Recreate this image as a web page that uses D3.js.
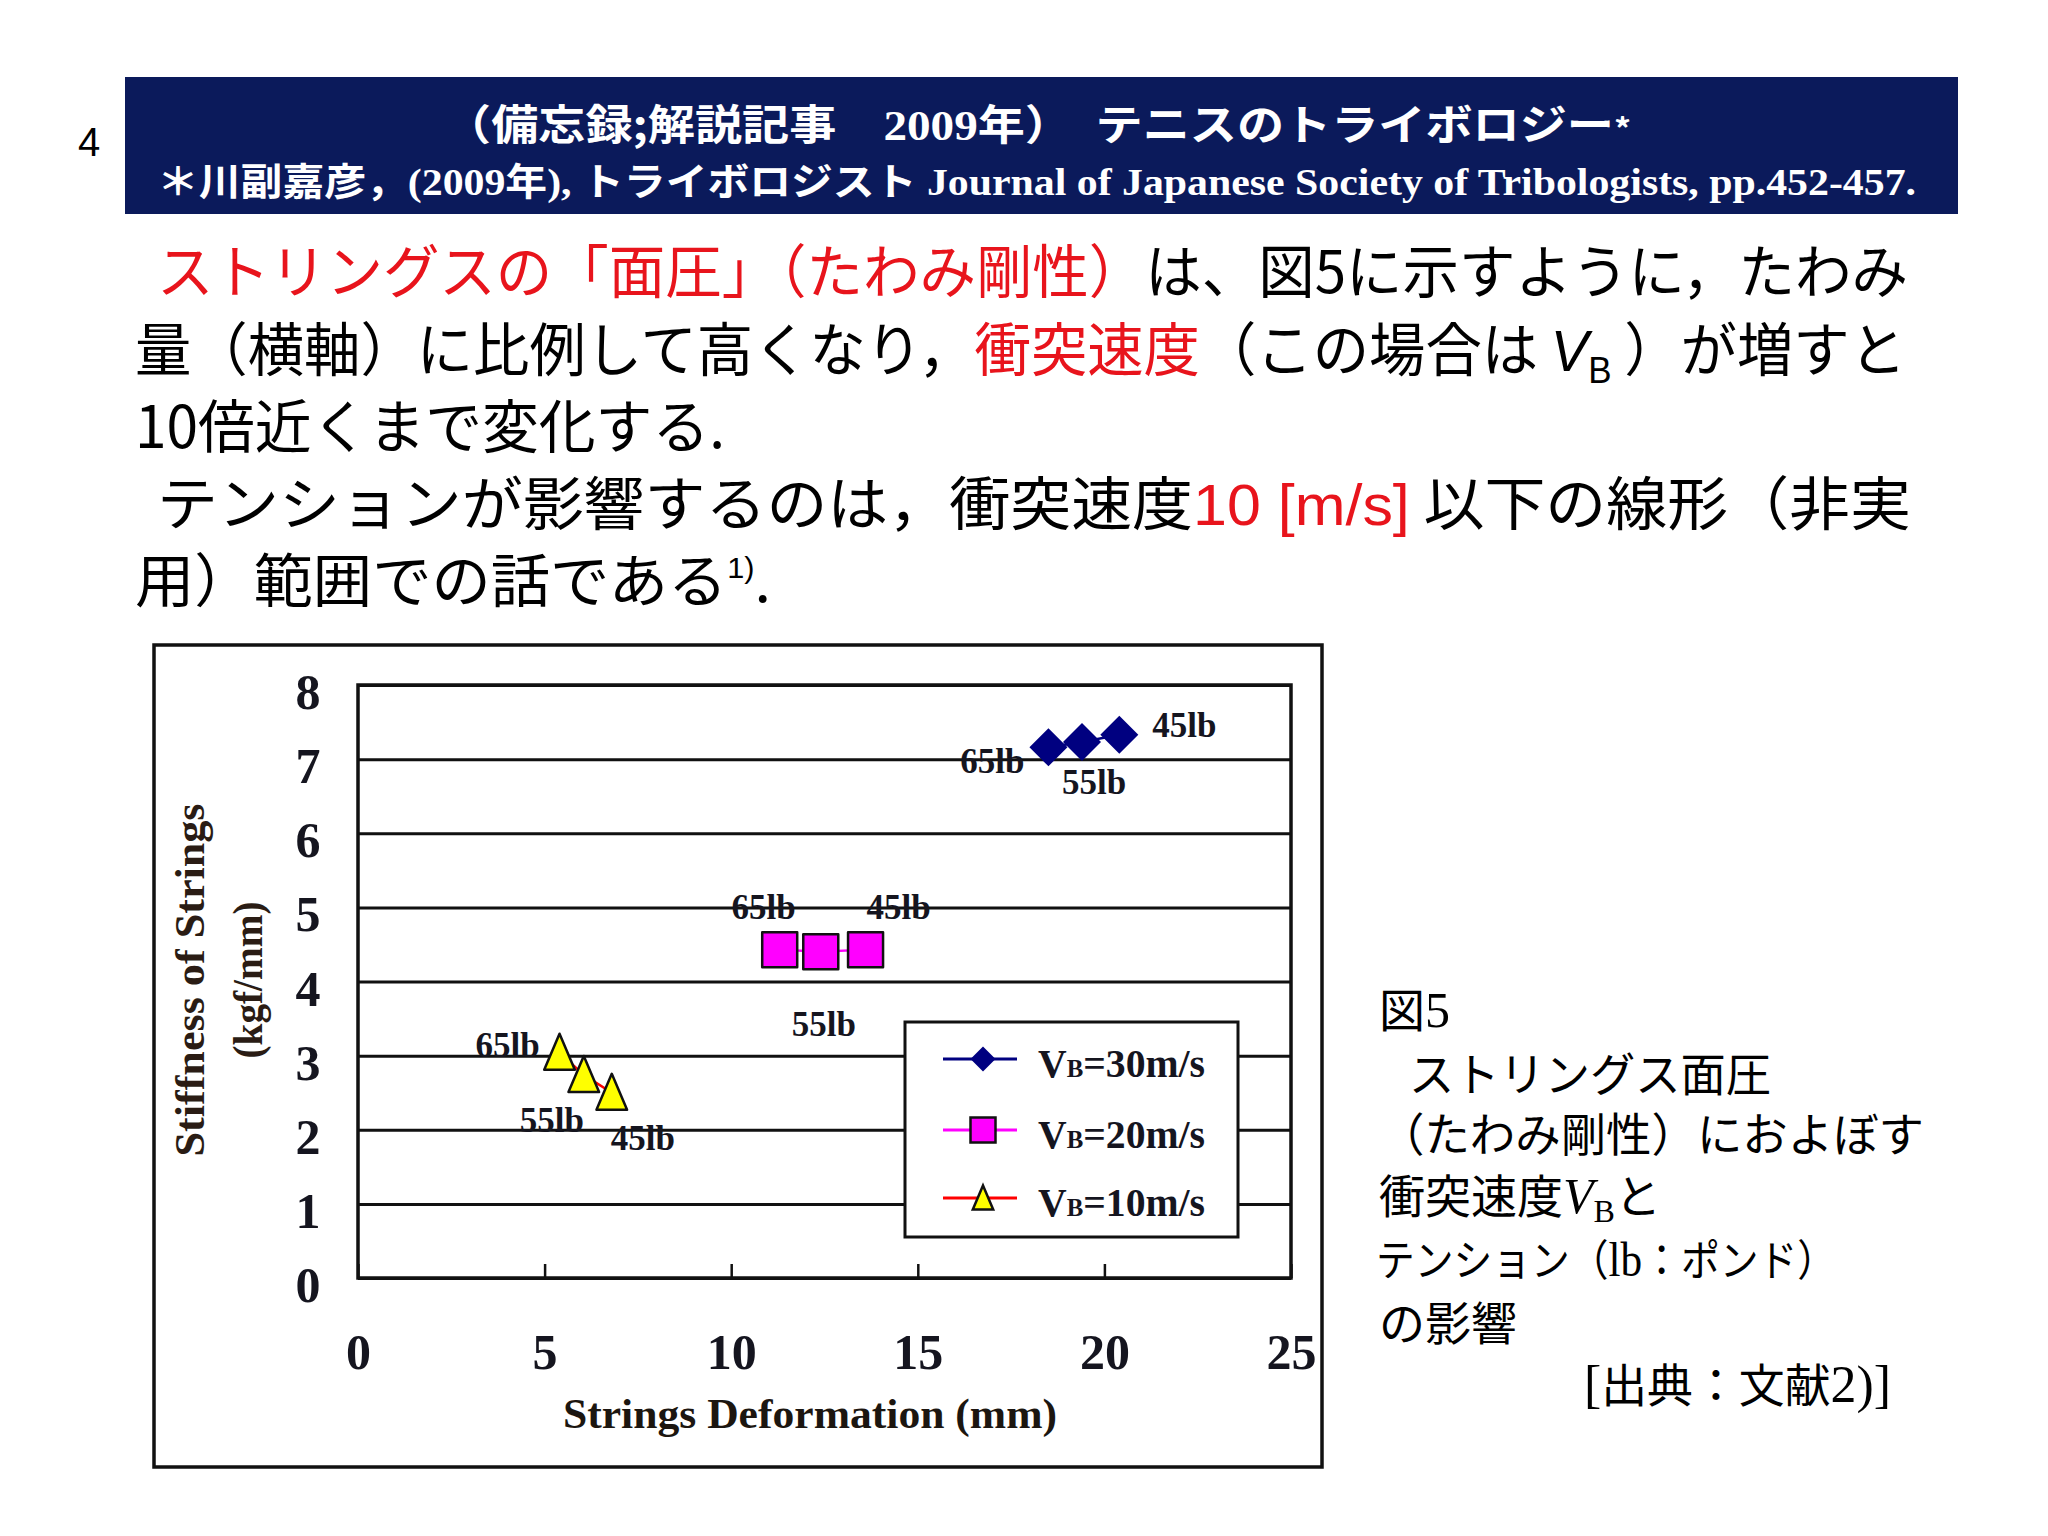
<!DOCTYPE html>
<html>
<head>
<meta charset="utf-8">
<script src="https://cdn.jsdelivr.net/npm/d3@7"></script>
<style>
  body { margin: 0; background: #fff; }
  svg { display: block; }
</style>
</head>
<body>
<div id="slide"></div>
<script>
// ---- data ----
const tensions = ["65lb", "55lb", "45lb"];
const speeds = [30, 20, 10];
const deformV30 = [18.5, 19.4, 20.4];
const stiffV30 = [7.16, 7.23, 7.33];
const deformV20 = [11.3, 12.4, 13.6];
const stiffV20 = [4.43, 4.40, 4.43];
const deformV10 = [5.4, 6.05, 6.8];
const stiffV10 = [3.04, 2.74, 2.50];
const xTicks = [0, 5, 10, 15, 20, 25];
const yTicks = [0, 1, 2, 3, 4, 5, 6, 7, 8];

const JP = "'Noto Sans CJK JP', sans-serif";
const SERIF = "'Liberation Serif', 'Times New Roman', serif";
const SANS = "'Liberation Sans', Arial, sans-serif";
const RED = "#e8141c";

let W = 2048, H = 1536;
let svg = d3.select("#slide").append("svg")
	.attr("width", W).attr("height", H)
	.attr("viewBox", `0 0 ${W} ${H}`);

svg.append("rect").attr("width", W).attr("height", H).attr("fill", "#fff");

// helper: a text line made of styled pieces
function addLine(parent, x, y, pieces, opts) {
	let t = parent.append("text")
		.attr("x", x).attr("y", y)
		.attr("font-family", opts.family || JP)
		.attr("font-size", opts.size)
		.attr("font-weight", opts.weight || "normal")
		.attr("fill", opts.fill || "#000");
	if (opts.length) t.attr("textLength", opts.length).attr("lengthAdjust", "spacingAndGlyphs");
	if (opts.anchor) t.attr("text-anchor", opts.anchor);
	pieces.forEach(p => {
		let s = t.append("tspan").text(p.t);
		if (p.f) s.attr("font-family", p.f);
		if (p.c) s.attr("fill", p.c);
		if (p.i) s.attr("font-style", "italic");
		if (p.s) s.attr("font-size", p.s);
		if (p.dy) s.attr("dy", p.dy);
	});
	return t;
}

// ---- header ----
svg.append("text")
	.attr("x", 89).attr("y", 156)
	.attr("text-anchor", "middle")
	.attr("font-family", SANS).attr("font-size", 40)
	.text("4");

svg.append("rect")
	.attr("x", 125).attr("y", 77)
	.attr("width", 1833).attr("height", 137)
	.attr("fill", "#0b1a5b");

addLine(svg, 444, 140, [
	{ t: "（備忘録;解説記事　" },
	{ t: "2009", f: SERIF },
	{ t: "年）　テニスのトライボロジー" },
	{ t: "*", s: 30 }
], { size: 42, weight: "bold", fill: "#fff", length: 1187 });

addLine(svg, 157, 195, [
	{ t: "＊川副嘉彦，" },
	{ t: "(2009", f: SERIF },
	{ t: "年" },
	{ t: "), ", f: SERIF },
	{ t: "トライボロジスト" },
	{ t: " Journal of Japanese Society of Tribologists,  pp.452-457.", f: SERIF }
], { size: 38, weight: "bold", fill: "#fff", length: 1759 });

// ---- body text ----
let body = svg.append("g");
addLine(body, 157, 293, [
	{ t: "ストリングスの「面圧」（たわみ剛性）", c: RED },
	{ t: "は、図5に示すように，たわみ" }
], { size: 58, length: 1751 });
addLine(body, 135, 371, [
	{ t: "量（横軸）に比例して高くなり，" },
	{ t: "衝突速度", c: RED },
	{ t: "（この場合は " },
	{ t: "V", f: SANS, i: true },
	{ t: "B", f: SANS, s: 36, dy: 12 },
	{ t: " ）が増すと", dy: -12 }
], { size: 58, length: 1771 });
addLine(body, 135, 448, [
	{ t: "10倍近くまで変化する." }
], { size: 58, length: 590 });
addLine(body, 157, 525, [
	{ t: "テンションが影響するのは，衝突速度" },
	{ t: "10 [m/s]", c: RED, f: SANS },
	{ t: " 以下の線形（非実" }
], { size: 58, length: 1754 });
addLine(body, 135, 602, [
	{ t: "用）範囲での話である" },
	{ t: "1)", s: 30, dy: -24, f: SANS },
	{ t: ".", dy: 24 }
], { size: 58, length: 636 });

// ---- chart ----
let plot = { left: 358, right: 1291, top: 685, bottom: 1278 };

// outer frame of the pasted figure
svg.append("rect")
	.attr("x", 154).attr("y", 645)
	.attr("width", 1168).attr("height", 822)
	.attr("fill", "#fff")
	.attr("stroke", "#111").attr("stroke-width", 3.5);

let xScale = d3.scaleLinear().domain([0, 25]).range([plot.left, plot.right]);
let yScale = d3.scaleLinear().domain([0, 8]).range([plot.bottom, plot.top]);

// Y grid + labels
let gy = svg.append("g")
	.attr("transform", "translate(" + plot.left + ",0)")
	.call(d3.axisLeft(yScale).tickValues(yTicks).tickSize(-(plot.right - plot.left)).tickFormat(d3.format("d")));
gy.select(".domain").remove();
gy.selectAll(".tick line").attr("stroke", "#111").attr("stroke-width", 3);
gy.selectAll(".tick text")
	.attr("x", -50).attr("y", 6).attr("dy", "0.35em")
	.attr("text-anchor", "middle")
	.attr("font-family", SERIF).attr("font-size", 50).attr("font-weight", "bold")
	.attr("fill", "#15151f");

// X ticks (inward) + labels
let gx = svg.append("g")
	.attr("transform", "translate(0," + plot.bottom + ")")
	.call(d3.axisBottom(xScale).tickValues(xTicks).tickSize(-14).tickFormat(d3.format("d")));
gx.select(".domain").remove();
gx.selectAll(".tick line").attr("stroke", "#111").attr("stroke-width", 2.5);
gx.selectAll(".tick text")
	.attr("y", 73).attr("dy", "0.35em")
	.attr("font-family", SERIF).attr("font-size", 50).attr("font-weight", "bold")
	.attr("fill", "#15151f");

// plot border
svg.append("rect")
	.attr("x", plot.left).attr("y", plot.top)
	.attr("width", plot.right - plot.left).attr("height", plot.bottom - plot.top)
	.attr("fill", "none").attr("stroke", "#111").attr("stroke-width", 3.5);

// axis titles
svg.append("text")
	.attr("x", 810).attr("y", 1428)
	.attr("text-anchor", "middle")
	.attr("font-family", SERIF).attr("font-size", 42).attr("font-weight", "bold")
	.attr("textLength", 494).attr("lengthAdjust", "spacingAndGlyphs")
	.attr("fill", "#1c1610")
	.text("Strings Deformation (mm)");

svg.append("text")
	.attr("transform", "translate(204,980) rotate(-90)")
	.attr("text-anchor", "middle")
	.attr("font-family", SERIF).attr("font-size", 42).attr("font-weight", "bold")
	.attr("textLength", 353).attr("lengthAdjust", "spacingAndGlyphs")
	.attr("fill", "#2a1c14")
	.text("Stiffness of Strings");
svg.append("text")
	.attr("transform", "translate(262,980) rotate(-90)")
	.attr("text-anchor", "middle")
	.attr("font-family", SERIF).attr("font-size", 42).attr("font-weight", "bold")
	.attr("textLength", 157).attr("lengthAdjust", "spacingAndGlyphs")
	.attr("fill", "#2a1c14")
	.text("(kgf/mm)");

// series
let series = [
	{ speed: speeds[0], xs: deformV30, ys: stiffV30, line: "#000080", fill: "#000080", stroke: "none", shape: "diamond" },
	{ speed: speeds[1], xs: deformV20, ys: stiffV20, line: "#ff00ff", fill: "#ff00ff", stroke: "#111", shape: "square" },
	{ speed: speeds[2], xs: deformV10, ys: stiffV10, line: "#ff0000", fill: "#ffff00", stroke: "#111", shape: "triangle" }
];

// label offsets (px) from each marker, per series, in tension order
let labelOffsets = [
	[[-56, 13], [12, 40], [65, -10]],
	[[-16, -43], [3, 72], [33, -43]],
	[[-52, -8], [-32, 45], [31, 45]]
];

function markerPath(shape, s) {
	if (shape === "diamond") return `M0,${-s}L${s},0L0,${s}L${-s},0Z`;
	if (shape === "square") return `M${-s},${-s}L${s},${-s}L${s},${s}L${-s},${s}Z`;
	return `M0,${-s * 1.05}L${s * 0.85},${s * 0.95}L${-s * 0.85},${s * 0.95}Z`;
}
let markerSize = { diamond: 19, square: 17.5, triangle: 18 };

let lineGen = d3.line().x(d => xScale(d[0])).y(d => yScale(d[1]));

series.forEach((s, si) => {
	let pts = s.xs.map((v, i) => [v, s.ys[i]]);
	let g = svg.append("g");
	g.append("path")
		.attr("d", lineGen(pts))
		.attr("fill", "none")
		.attr("stroke", s.line).attr("stroke-width", 2.5);
	g.selectAll("path.mk")
		.data(pts)
		.enter()
		.append("path")
		.attr("class", "mk")
		.attr("transform", d => "translate(" + xScale(d[0]) + "," + yScale(d[1]) + ")")
		.attr("d", markerPath(s.shape, markerSize[s.shape]))
		.attr("fill", s.fill)
		.attr("stroke", s.stroke).attr("stroke-width", 2.5)
		.attr("stroke-linejoin", "round");
	g.selectAll("text")
		.data(pts)
		.enter()
		.append("text")
		.attr("x", (d, i) => xScale(d[0]) + labelOffsets[si][i][0])
		.attr("y", (d, i) => yScale(d[1]) + labelOffsets[si][i][1])
		.attr("dy", "0.35em")
		.attr("text-anchor", "middle")
		.attr("font-family", SERIF).attr("font-size", 35).attr("font-weight", "bold")
		.attr("fill", "#15151f")
		.text((d, i) => tensions[i]);
});

// legend
let legend = svg.append("g").attr("transform", "translate(905,1022)");
legend.append("rect")
	.attr("width", 333).attr("height", 215)
	.attr("fill", "#fff")
	.attr("stroke", "#111").attr("stroke-width", 3);
let legendY = [37, 108, 176];
series.forEach((s, i) => {
	let row = legend.append("g").attr("transform", "translate(0," + legendY[i] + ")");
	row.append("line")
		.attr("x1", 38).attr("x2", 112)
		.attr("stroke", s.line).attr("stroke-width", 3);
	row.append("path")
		.attr("transform", "translate(78,0)")
		.attr("d", markerPath(s.shape, s.shape === "triangle" ? 12 : 12.5))
		.attr("fill", s.fill)
		.attr("stroke", s.stroke).attr("stroke-width", 2.5);
	let t = row.append("text")
		.attr("x", 133).attr("y", 4).attr("dy", "0.35em")
		.attr("font-family", SERIF).attr("font-size", 40).attr("font-weight", "bold")
		.attr("fill", "#15151f")
		.attr("textLength", 167).attr("lengthAdjust", "spacingAndGlyphs");
	t.append("tspan").text("V");
	t.append("tspan").attr("font-size", 25).text("B");
	t.append("tspan").text("=" + s.speed + "m/s");
});

// ---- caption on the right ----
let cap = svg.append("g");
let capOpts = { size: 46 };
addLine(cap, 1379, 1027, [{ t: "図" }, { t: "5", f: SERIF, s: 50 }], capOpts);
addLine(cap, 1409, 1091, [{ t: "ストリングス面圧" }], { size: 46, length: 362 });
addLine(cap, 1379, 1151, [{ t: "（たわみ剛性）におよぼす" }], { size: 46, length: 545 });
addLine(cap, 1379, 1213, [
	{ t: "衝突速度" },
	{ t: "V", f: SERIF, i: true, s: 50 },
	{ t: "B", f: SERIF, s: 32, dy: 9 },
	{ t: "と", dy: -9 }
], capOpts);
addLine(cap, 1376, 1276, [
	{ t: "テンション（" },
	{ t: "lb", f: SERIF, s: 48 },
	{ t: "：ポンド）" }
], { size: 43, length: 460 });
addLine(cap, 1379, 1340, [{ t: "の影響" }], capOpts);
addLine(cap, 1584, 1402, [
	{ t: "[", f: SERIF, s: 52 },
	{ t: "出典：文献" },
	{ t: "2)]", f: SERIF, s: 52 }
], { size: 46, length: 307 });
</script>
</body>
</html>
